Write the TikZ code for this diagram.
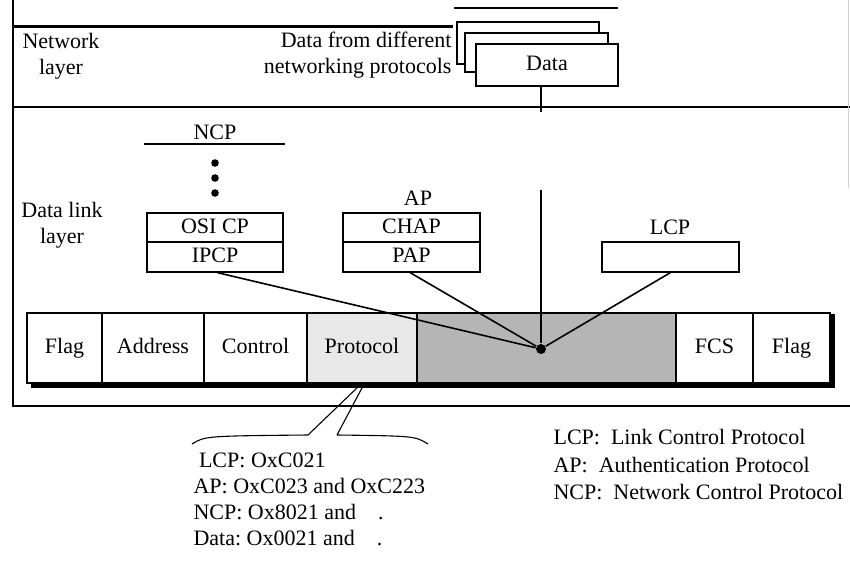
\documentclass[tikz,border=0pt]{standalone}
\usepackage{fontspec}
\setmainfont{Liberation Serif}
\usetikzlibrary{positioning}
\frenchspacing

\begin{document}
\begin{tikzpicture}[x=1pt,y=-1pt,line width=1.1pt,
  lab/.style={font=\fontsize{22}{26.5}\selectfont,inner sep=0pt,align=center},
  fld/.style={draw,line width=1.1pt,minimum height=70pt,inner sep=0pt,text height=15pt,text depth=5pt,font=\fontsize{22}{26}\selectfont},
  cell/.style={draw,fill=white,line width=1.1pt,minimum width=136pt,inner sep=0pt,text height=15pt,text depth=4pt,font=\fontsize{22}{26}\selectfont}]
\useasboundingbox (0,0) rectangle (850,562);
% layer frame
\draw (13,0) -- (13,406) -- (850,406);
\draw[line width=3pt] (13,26) -- (453,26);
\draw[line width=1.5pt] (454,8) -- (618,8);
\draw (13,107) -- (850,107);
\draw[gray!35,line width=0.6pt] (848,0) -- (848,188);
\node[lab] (netlay) at (61,56) {Network\\layer};
\node[lab,align=right,anchor=east] (fromprot) at (452,55) {Data from different\\networking protocols};
\node[lab] (dllay) at (62,225) {Data link\\layer};
% stacked data boxes
\node[draw,fill=white,minimum width=142pt,minimum height=42pt] (dataA) at (528,43) {};
\node[draw,fill=white,minimum width=143pt,minimum height=39pt] (dataB) at (536.5,52.5) {};
\node[cell,minimum width=142pt,minimum height=42pt] (data) at (547,65) {Data};
% frame fields
\foreach \n/\xa/\xb/\t/\c in {flagA/27/102/Flag/white, addr/102/204/Address/white, ctrl/204/307/Control/white,
  prot/307/417/Protocol/gray!18, info/417/676/{}/gray!58, fcs/676/753/FCS/white, flagB/753/830/Flag/white}
  \node[fld,fill=\c,minimum width=\xb-\xa] (\n) at ({(\xa+\xb)/2},348) {\t};
\draw[line width=3.5pt] ([xshift=5pt,yshift=-2.5pt]flagA.south west) -| ([xshift=2.5pt,yshift=-2pt]flagB.north east);
% NCP stack
\node[lab] (ncp) at (215,132) {NCP};
\draw (144,144) -- (285,144);
\foreach \y in {163,178,193} \fill (215,\y) circle (3.8pt);
\node[cell,minimum height=29pt] (osi) at (215,227.5) {OSI CP};
\node[cell,minimum height=30pt] (ipcp) at (215,257) {IPCP};
\draw (osi.north west) -- ++(0,8);
\draw (osi.north east) -- ++(0,23);
% AP stack
\node[lab] (ap) at (418,198) {AP};
\node[cell,minimum width=137pt,minimum height=29pt] (chap) at (411.5,227.5) {CHAP};
\node[cell,minimum width=137pt,minimum height=30pt] (pap) at (411.5,257) {PAP};
% LCP
\node[lab] (lcp) at (670,227) {LCP};
\node[cell,minimum width=137pt,minimum height=30pt] (lcpbox) at (670.5,257) {};
% hub and connectors
\node[circle,fill,inner sep=0pt,minimum size=10pt] (hub) at (541,349) {};
\coordinate (gapT) at (541,112);
\coordinate (vtop) at (541,190);
\draw (data.south -| hub) -- (gapT);
\draw (vtop) -- (hub);
\draw[line width=1.6pt] (hub) -- ([xshift=2pt]ipcp.south);
\draw[line width=1.6pt] (hub) -- ([xshift=-1.5pt]pap.south);
\draw[line width=1.6pt] (hub) -- (lcpbox.south);
% callout
\coordinate (tipA) at (359,386);
\coordinate (tipB) at (363,386);
\coordinate (mouthL) at (308,435);
\coordinate (mouthR) at (337,435);
\draw (tipA) -- (mouthL);
\draw (tipB) -- (mouthR);
\draw (mouthL) .. controls (205,436) .. (192,444);
\draw (mouthR) .. controls (415,436) .. (428,444);
\node[lab,align=left,anchor=west,font=\fontsize{22}{26}\selectfont] (codes) at (193,499)
  {\ LCP: OxC021\\AP: OxC023 and OxC223\\NCP: Ox8021 and \ \ \ .\\Data: Ox0021 and \ \ \ .};
\node[lab,align=left,anchor=west,font=\fontsize{22}{27.5}\selectfont] (legend) at (553,465)
  {LCP:\ \ Link Control Protocol\\AP:\ \ Authentication Protocol\\NCP:\ \ Network Control Protocol};
\end{tikzpicture}
\end{document}
